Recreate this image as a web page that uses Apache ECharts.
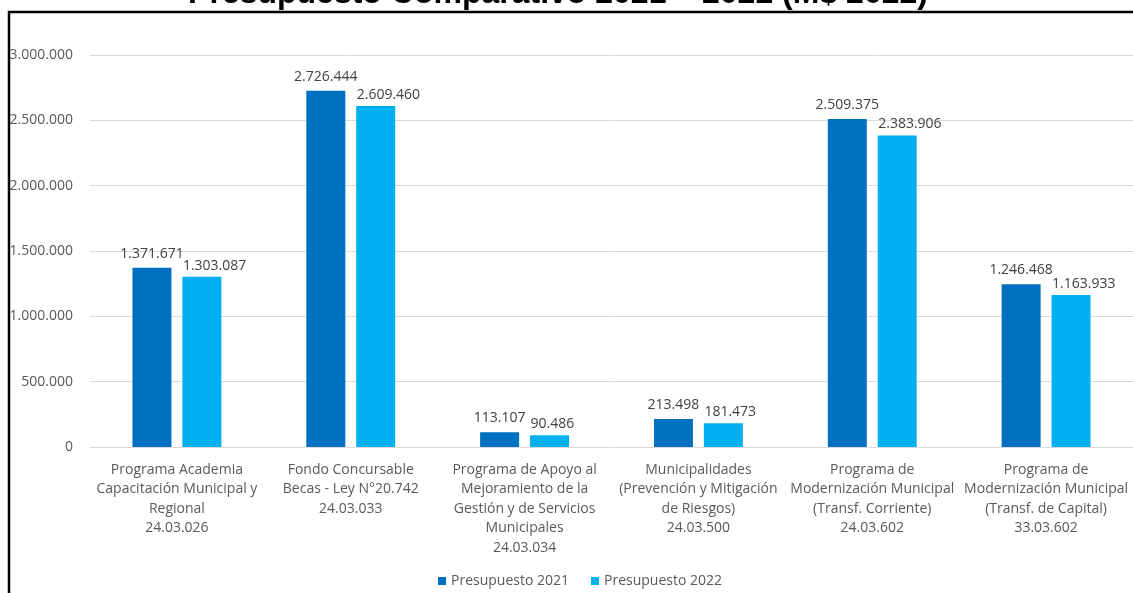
<!DOCTYPE html>
<html><head><meta charset="utf-8">
<script src="https://cdn.jsdelivr.net/npm/echarts@6/dist/echarts.min.js"></script>
<style>html,body{margin:0;padding:0;background:#fff}#c{width:1133px;height:593px}</style>
</head><body><div id="c"></div>
<script>
const titleText = 'Presupuesto Comparativo 2021 – 2022 (M$ 2022)';
const categories = [
  'Programa Academia\nCapacitación Municipal y\nRegional\n24.03.026',
  'Fondo Concursable\nBecas - Ley N°20.742\n24.03.033',
  'Programa de Apoyo al\nMejoramiento de la\nGestión y de Servicios\nMunicipales\n24.03.034',
  'Municipalidades\n(Prevención y Mitigación\nde Riesgos)\n24.03.500',
  'Programa de\nModernización Municipal\n(Transf. Corriente)\n24.03.602',
  'Programa de\nModernización Municipal\n(Transf. de Capital)\n33.03.602'
];
const seriesNames = ['Presupuesto 2021', 'Presupuesto 2022'];
const presupuesto2021 = [1371671, 2726444, 113107, 213498, 2509375, 1246468];
const presupuesto2022 = [1303087, 2609460, 90486, 181473, 2383906, 1163933];
const yTicks = { min: 0, max: 3000000, interval: 500000 };

function fmt(v) {
  return String(Math.round(v)).replace(/\B(?=(\d{3})+(?!\d))/g, '.');
}
const FONT = '"Open Sans", "Noto Sans", sans-serif';
const chart = echarts.init(document.getElementById('c'), null, { renderer: 'canvas' });
chart.setOption({
  animation: false,
  backgroundColor: '#ffffff',
  textStyle: { fontFamily: FONT },
  grid: { left: 90, top: 55, width: 1046, height: 392, containLabel: false },
  legend: {
    data: seriesNames,
    top: 569, left: 433,
    itemWidth: 8, itemHeight: 8, itemGap: 22,
    icon: 'rect',
    textStyle: { color: '#595959', fontSize: 14, fontFamily: FONT }
  },
  xAxis: {
    type: 'category',
    data: categories,
    axisLine: { lineStyle: { color: '#d9d9d9', width: 1 } },
    axisTick: { show: false },
    axisLabel: { color: '#595959', fontSize: 14, lineHeight: 19.5, margin: 13, interval: 0, fontFamily: FONT }
  },
  yAxis: {
    type: 'value',
    min: yTicks.min, max: yTicks.max, interval: yTicks.interval,
    axisLine: { show: false },
    axisTick: { show: false },
    splitLine: { lineStyle: { color: '#d9d9d9', width: 1 } },
    axisLabel: { color: '#595959', fontSize: 14, margin: 17, formatter: fmt, fontFamily: FONT }
  },
  series: [
    {
      name: seriesNames[0], type: 'bar', data: presupuesto2021,
      barWidth: 39, barGap: '28%',
      itemStyle: { color: '#0070C0' },
      label: { show: true, position: 'top', distance: 7, color: '#404040', fontSize: 14, formatter: p => fmt(p.value), fontFamily: FONT }
    },
    {
      name: seriesNames[1], type: 'bar', data: presupuesto2022,
      barWidth: 39,
      itemStyle: { color: '#00B0F0' },
      label: { show: true, position: 'top', distance: 4, align: 'left', offset: [-19, 0], color: '#404040', fontSize: 14, formatter: p => fmt(p.value), fontFamily: FONT }
    }
  ],
  graphic: [
    {
      type: 'polyline', z: 100,
      shape: { points: [[9, 593], [9, 12], [1133, 12]] },
      style: { stroke: '#000', lineWidth: 2.5, fill: null }
    },
    {
      type: 'text', z: 101, x: 558, y: 10.5,
      style: { text: titleText, font: 'bold 32px "Liberation Sans", Arial, sans-serif', fill: '#000', align: 'center', verticalAlign: 'bottom' }
    }
  ]
});
</script></body></html>
